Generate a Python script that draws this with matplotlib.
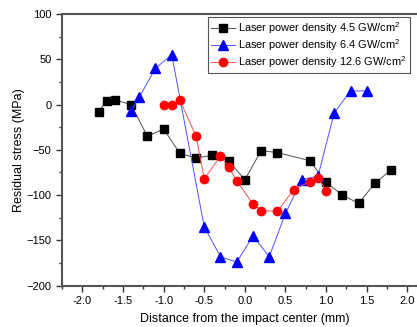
import matplotlib
matplotlib.use("Agg")
import matplotlib.pyplot as plt
from matplotlib.ticker import MultipleLocator

plt.rcParams['font.family'] = ['Liberation Sans', 'DejaVu Sans']
plt.rcParams['mathtext.fontset'] = 'custom'
plt.rcParams['mathtext.rm'] = 'Liberation Sans'
plt.rcParams['mathtext.it'] = 'Liberation Sans:italic'
plt.rcParams['mathtext.bf'] = 'Liberation Sans:bold'

x45 = [-1.8, -1.7, -1.6, -1.4, -1.2, -1.0, -0.8, -0.6, -0.4, -0.2, 0.0, 0.2, 0.4, 0.8, 1.0, 1.2, 1.4, 1.6, 1.8]
y45 = [-8, 4, 5, 0, -35, -27, -54, -59, -56, -62, -83, -51, -53, -62, -86, -100, -109, -87, -72]

x64 = [-1.4, -1.3, -1.1, -0.9, -0.5, -0.3, -0.1, 0.1, 0.3, 0.5, 0.7, 0.9, 1.1, 1.3, 1.5]
y64 = [-7, 8, 40, 55, -135, -168, -174, -145, -168, -120, -83, -79, -9, 15, 15]

x126 = [-1.0, -0.9, -0.8, -0.6, -0.5, -0.3, -0.2, -0.1, 0.1, 0.2, 0.4, 0.6, 0.8, 0.9, 1.0]
y126 = [0, 0, 5, -35, -82, -57, -69, -84, -110, -117, -118, -94, -85, -81, -95]

labels = ['Laser power density 4.5 GW/cm$^\\mathregular{2}$',
          'Laser power density 6.4 GW/cm$^\\mathregular{2}$',
          'Laser power density 12.6 GW/cm$^\\mathregular{2}$']

xticks = [-2.0, -1.5, -1.0, -0.5, 0.0, 0.5, 1.0, 1.5, 2.0]
yticks = [-200, -150, -100, -50, 0, 50, 100]

fig = plt.figure(figsize=(4.17, 3.27), dpi=100)
ax = fig.add_axes([0.1487, 0.1263, 0.877, 0.831])

ax.plot(x45, y45, color='#505050', lw=0.7, marker='s', ms=5.5, mfc='black', mec='black', label=labels[0])
ax.plot(x64, y64, color='#5050ff', lw=0.7, marker='^', ms=6.5, mfc='#0000ff', mec='#0000ff', label=labels[1])
ax.plot(x126, y126, color='#ff5050', lw=0.7, marker='o', ms=6, mfc='#ff0000', mec='#ff0000', label=labels[2])

ax.set_xlim(-2.25, 2.25)
ax.set_ylim(-200, 100)
ax.set_xticks(xticks)
ax.set_xticklabels([f'{v:.1f}' for v in xticks])
ax.set_yticks(yticks)
ax.xaxis.set_minor_locator(MultipleLocator(0.25))
ax.yaxis.set_minor_locator(MultipleLocator(25))
ax.tick_params(which='major', direction='out', length=4, width=1, colors='#333333', labelsize=8, labelcolor='black')
ax.tick_params(which='minor', direction='out', length=2.5, width=1, colors='#333333')
ax.tick_params(top=False, right=False)
for s in ax.spines.values():
    s.set_color('#555555')
    s.set_linewidth(1.5)

ax.set_xlabel('Distance from the impact center (mm)', fontsize=9, labelpad=5)
ax.set_ylabel('Residual stress (MPa)', fontsize=9, labelpad=1)

leg = ax.legend(loc='upper left', bbox_to_anchor=(208/417, 1 - 17/327), bbox_transform=fig.transFigure,
                fontsize=7.9, frameon=True, fancybox=False, edgecolor='#555555', framealpha=1,
                borderpad=0.3, labelspacing=0.1, handlelength=2.2, handletextpad=0.2, borderaxespad=0)
leg.get_frame().set_linewidth(0.8)

fig.savefig('out.png', dpi=100)
